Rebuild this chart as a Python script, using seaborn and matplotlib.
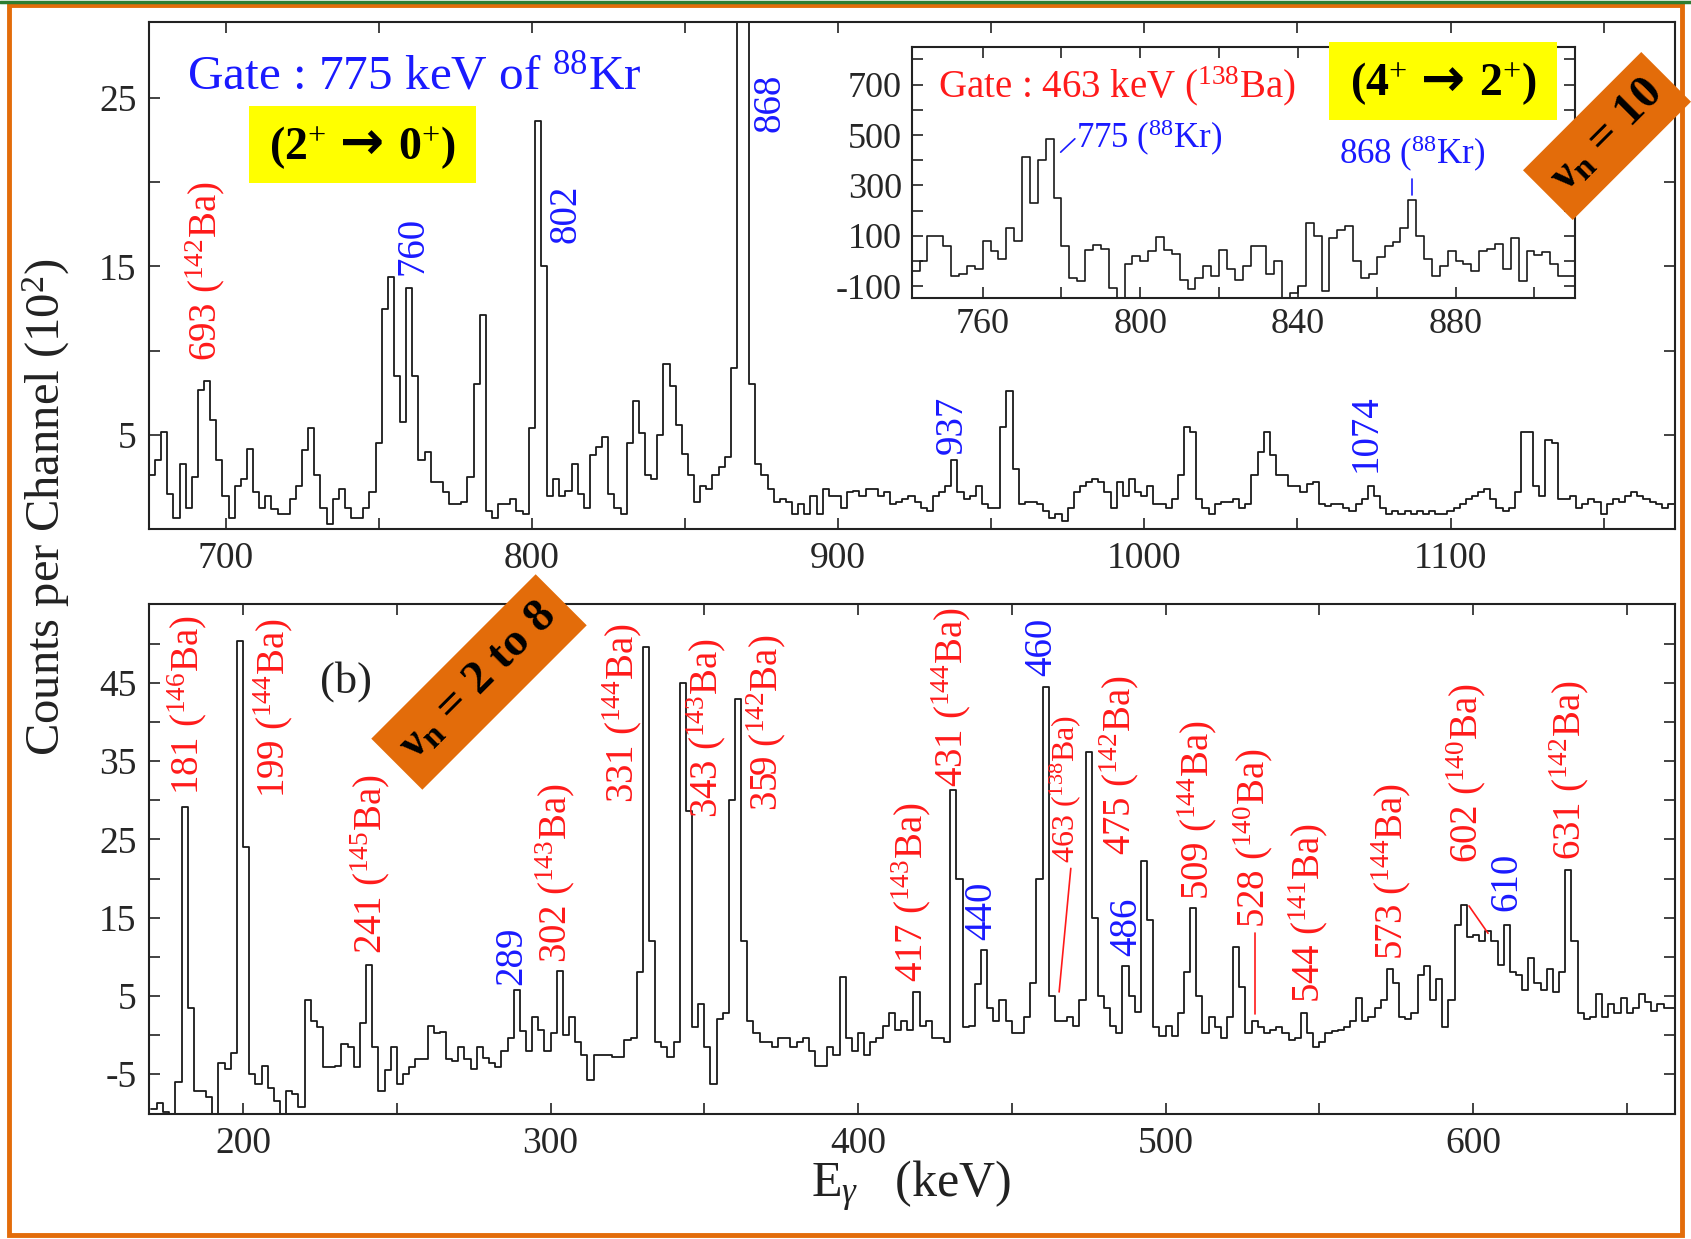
import numpy as np
import matplotlib
matplotlib.use("Agg")
import matplotlib.pyplot as plt
import seaborn as sns
from matplotlib.ticker import FixedLocator
from matplotlib.patches import Rectangle
from matplotlib.lines import Line2D
from matplotlib.offsetbox import TextArea, HPacker, AnnotationBbox

# ---------------- data ----------------
# (a) spectrum gated by 775 keV of 88Kr, 2 keV bins starting at 675 keV, counts in units of 10^2
top_start, top_width = 675, 2
top_counts = [
    2.6, 3.5, 5.2, 1.5, 0.1,
    3.3, 0.7, 2.5, 7.7, 8.2,
    5.9, 3.5, 1.4, 0.1, 2.0,
    2.4, 4.2, 1.6, 0.7, 1.4,
    0.6, 0.3, 0.3, 1.2, 2.0,
    4.1, 5.4, 2.6, 0.7, -0.3,
    1.2, 1.8, 0.7, 0.1, 0.1,
    0.7, 1.6, 4.5, 12.5, 14.4,
    8.5, 5.8, 13.7, 8.5, 3.5,
    4.0, 2.2, 2.2, 1.6, 0.9,
    0.9, 1.0, 2.5, 8.0, 12.1,
    0.5, 0.1, 0.9, 0.9, 1.2,
    0.5, 0.3, 5.4, 23.6, 15.0,
    1.4, 2.4, 1.4, 1.7, 3.3,
    1.5, 0.7, 3.8, 4.3, 4.9,
    1.5, 0.7, 0.3, 4.5, 7.0,
    5.1, 2.6, 2.4, 5.0, 9.2,
    7.9, 5.6, 3.9, 2.6, 1.0,
    2.0, 1.8, 2.6, 3.1, 3.7,
    9.0, 40.0, 40.0, 8.0, 3.3,
    2.6, 1.8, 1.0, 1.2, 1.0,
    0.3, 0.9, 0.3, 1.4, 0.3,
    1.8, 1.4, 1.4, 0.7, 1.6,
    1.7, 1.4, 1.8, 1.8, 1.4,
    1.6, 0.9, 1.0, 1.2, 1.4,
    1.0, 0.7, 0.5, 1.4, 1.6,
    2.0, 3.5, 1.6, 1.2, 1.4,
    2.0, 0.9, 0.7, 0.7, 5.5,
    7.6, 3.0, 0.9, 1.0, 1.0,
    0.9, 0.5, 0.1, 0.3, -0.1,
    0.7, 1.6, 2.0, 2.2, 2.4,
    2.2, 1.6, 0.7, 2.2, 1.4,
    2.4, 1.6, 1.4, 2.0, 0.9,
    0.9, 0.7, 1.2, 2.6, 5.5,
    5.2, 1.2, 0.7, 0.3, 0.9,
    1.0, 1.0, 1.2, 0.7, 0.9,
    2.6, 4.0, 5.2, 3.8, 2.6,
    2.6, 2.0, 2.0, 1.6, 2.1,
    2.2, 0.9, 0.8, 0.9, 0.9,
    0.7, 0.5, 0.9, 1.2, 2.0,
    1.4, 0.7, 0.3, 0.5, 0.3,
    0.5, 0.3, 0.5, 0.3, 0.5,
    0.3, 0.3, 0.5, 0.7, 0.9,
    1.2, 1.4, 1.6, 1.8, 1.2,
    0.7, 0.5, 0.7, 1.6, 5.2,
    5.2, 2.0, 1.4, 4.7, 4.5,
    1.2, 1.2, 1.4, 0.7, 0.9,
    1.2, 1.0, 0.3, 0.9, 1.2,
    1.0, 1.4, 1.6, 1.4, 1.2,
    1.0, 0.9, 0.7, 0.9, 0.9,
]

# (b) spectrum, 2 keV bins starting at 170 keV
bot_start, bot_width = 170, 2
bot_counts = [
    -9.5, -8.7, -9.8, -11.0, -6.0,
    29.2, 3.4, -7.1, -7.1, -7.9,
    -10.5, -3.6, -4.4, -2.3, 50.4,
    24.0, -5.0, -6.3, -3.9, -6.8,
    -8.4, -11.0, -7.1, -7.5, -9.2,
    4.5, 1.8, 1.0, -4.1, -4.1,
    -3.9, -1.2, -1.5, -4.1, 1.5,
    9.0, -1.5, -7.1, -4.5, -1.5,
    -6.3, -5.0, -4.1, -3.1, -3.1,
    1.2, 0.2, 0.4, -3.1, -3.3,
    -1.5, -3.1, -4.3, -1.5, -2.9,
    -3.6, -4.1, -2.0, -0.4, 5.8,
    0.5, -2.0, 2.3, 0.7, -2.0,
    0.2, 8.2, 0.0, 2.3, -0.9,
    -2.5, -5.8, -2.5, -2.5, -2.5,
    -2.8, -2.8, -0.6, -0.4, 8.0,
    49.6, 12.0, -0.9, -1.5, -2.8,
    -0.9, 45.0, 28.7, 1.0, 3.9,
    -1.5, -6.3, 2.0, 2.8, 30.0,
    42.9, 12.0, 1.8, 0.2, -0.9,
    -0.9, -1.5, -0.4, -0.4, -1.5,
    -0.9, -0.4, -2.0, -3.9, -3.9,
    -1.5, -2.5, 7.4, -0.4, -2.0,
    0.2, -2.5, -0.9, -0.4, 1.2,
    2.8, 0.7, 1.8, 0.7, 5.5,
    1.2, 1.8, -0.4, -0.4, -0.9,
    31.3, 20.0, 1.0, 1.2, 6.5,
    10.9, 3.4, 1.8, 4.5, 1.8,
    0.2, 0.2, 2.3, 6.6, 20.0,
    44.5, 5.0, 1.8, 1.8, 2.3,
    1.2, 4.5, 36.2, 15.0, 5.0,
    3.4, 1.2, 0.2, 8.8, 5.0,
    3.0, 22.2, 14.7, 1.0, -0.1,
    1.2, -0.1, 2.8, 8.0, 16.3,
    5.0, 0.2, 2.3, 1.0, -0.4,
    2.3, 11.2, 6.1, 0.2, 1.8,
    1.0, 0.2, 0.7, 1.0, 0.2,
    -0.6, -0.4, 2.8, 0.2, -1.5,
    -0.9, 0.2, 0.5, 0.7, 1.0,
    1.8, 4.7, 1.8, 2.3, 3.4,
    4.5, 8.5, 6.6, 2.3, 2.0,
    2.8, 7.7, 8.8, 4.5, 7.2,
    1.0, 4.5, 14.0, 16.6, 12.5,
    12.8, 12.0, 13.3, 12.0, 9.0,
    14.1, 8.0, 7.7, 5.8, 9.8,
    6.6, 5.8, 8.5, 5.5, 8.0,
    21.1, 12.0, 2.8, 2.0, 2.3,
    5.3, 2.3, 3.9, 2.8, 4.7,
    2.8, 3.4, 5.3, 4.2, 3.1,
    3.9, 3.4, 3.4,
]

# inset: gate on 463 keV (138Ba), 2 keV bins starting at 742 keV (counts)
ins_start, ins_width = 742, 2
ins_counts = [
    -40, 0, 100, 100, 60,
    -60, -50, -20, -30, 80,
    40, 10, 130, 80, 413,
    229, 400, 486, 250, 60,
    -67, -80, 45, 64, 50,
    -107, -160, -10, 20, -1,
    40, 97, 45, 30, -74,
    -110, -67, -20, -60, 45,
    -30, -74, -20, 60, 60,
    -50, 0, -160, -126, -100,
    150, 100, -120, 90, 124,
    140, 0, -67, -50, 15,
    60, 75, 130, 242, 100,
    10, -60, -20, 40, 0,
    -10, -40, 40, 50, 70,
    -30, 90, -80, 40, 25,
    35, -10, -60, -60,
]

# peak labels
top_lbl_text = ["693 ($^{142}$Ba)", "760", "802", "868", "937", "1074"]
top_lbl_color = ["red", "blue", "blue", "blue", "blue", "blue"]
top_lbl_x = [693.3, 761.2, 811.2, 877.8, 937.2, 1072.4]
top_lbl_y = [9.4, 14.5, 16.4, 23.0, 3.9, 2.8]

bot_lbl_text = ["181 ($^{146}$Ba)", "199 ($^{144}$Ba)", "241 ($^{145}$Ba)", "289",
                "302 ($^{143}$Ba)", "331 ($^{144}$Ba)", "343 ($^{143}$Ba)", "359 ($^{142}$Ba)",
                "417 ($^{143}$Ba)", "431 ($^{144}$Ba)", "440", "460", "463 ($^{138}$Ba)",
                "475 ($^{142}$Ba)", "486", "509 ($^{144}$Ba)", "528 ($^{140}$Ba)",
                "544 ($^{141}$Ba)", "573 ($^{144}$Ba)", "602 ($^{140}$Ba)", "610",
                "631 ($^{142}$Ba)"]
bot_lbl_color = ["red", "red", "red", "blue", "red", "red", "red", "red", "red", "red",
                 "blue", "blue", "red", "red", "blue", "red", "red", "red", "red", "red",
                 "blue", "red"]
bot_lbl_x = [181.7, 209.7, 241.3, 287.5, 301.6, 323.3, 350.7, 370.0, 417.3, 430.3,
             440.1, 459.7, 467.5, 485.0, 487.5, 510.2, 528.5, 546.3, 573.3, 597.9,
             610.9, 631.2]
bot_lbl_y = [30.7, 30.3, 10.3, 6.4, 9.2, 29.6, 27.8, 28.6, 6.8, 31.7,
             12.1, 45.9, 22.0, 23.0, 10.1, 17.2, 13.7, 4.1, 9.6, 22.0,
             15.8, 22.4]
bot_lbl_size = [28] * 12 + [23] + [28] * 9

# transition boxes: (initial spin, final spin)
transitions = [("2", "0"), ("4", "2")]

# ---------------- style ----------------
sns.set_style("ticks")
plt.rcParams.update({
    "font.family": ["Liberation Serif", "DejaVu Serif"],
    "mathtext.fontset": "custom",
    "mathtext.rm": "Liberation Serif",
    "mathtext.it": "Liberation Serif:italic",
    "mathtext.bf": "Liberation Serif:bold",
    "axes.unicode_minus": False,
    "axes.edgecolor": "#222222",
    "axes.linewidth": 1.5,
})
RED = "#ff1a1a"
BLUE = "#1a1aff"
cmap = {"red": RED, "blue": BLUE}
LINE = "#1a1a1a"

W, H = 1691, 1239
fig = plt.figure(figsize=(W / 100, H / 100), dpi=100)
fig.patch.set_facecolor("white")


def rect(x0, y0, x1, y1):
    return [x0 / W, 1 - y1 / H, (x1 - x0) / W, (y1 - y0) / H]


ax_top = fig.add_axes(rect(149, 22, 1675, 528.6))
ax_bot = fig.add_axes(rect(149, 604.4, 1675, 1114))
ax_in = fig.add_axes(rect(911.7, 46.7, 1575, 298))


def spectrum(ax, start, width, counts, lw=1.3):
    n = len(counts)
    edges = start + width * np.arange(n + 1)
    y = np.append(np.asarray(counts, float), counts[-1])
    sns.lineplot(x=edges, y=y, drawstyle="steps-post", color=LINE, lw=lw,
                 ax=ax, legend=False)
    ax.set_xlabel("")
    ax.set_ylabel("")


spectrum(ax_top, top_start, top_width, top_counts)
spectrum(ax_bot, bot_start, bot_width, bot_counts)
spectrum(ax_in, ins_start, ins_width, ins_counts, lw=1.2)

ax_top.set_xlim(675, 1173.3)
ax_top.set_ylim(-0.55, 29.5)
ax_bot.set_xlim(169.4, 665.7)
ax_bot.set_ylim(-10.1, 55.05)
ax_in.set_xlim(742, 910.3)
ax_in.set_ylim(-146, 850)

ax_top.xaxis.set_major_locator(FixedLocator([700, 800, 900, 1000, 1100]))
ax_top.xaxis.set_minor_locator(FixedLocator([750, 850, 950, 1050, 1150]))
ax_top.yaxis.set_major_locator(FixedLocator([5, 15, 25]))
ax_top.yaxis.set_minor_locator(FixedLocator([10, 20]))

ax_bot.xaxis.set_major_locator(FixedLocator([200, 300, 400, 500, 600]))
ax_bot.xaxis.set_minor_locator(FixedLocator([250, 350, 450, 550, 650]))
ax_bot.yaxis.set_major_locator(FixedLocator([-5, 5, 15, 25, 35, 45]))
ax_bot.yaxis.set_minor_locator(FixedLocator([0, 10, 20, 30, 40, 50]))

ax_in.xaxis.set_major_locator(FixedLocator([760, 800, 840, 880]))
ax_in.xaxis.set_minor_locator(FixedLocator([780, 820, 860, 900]))
ax_in.yaxis.set_major_locator(FixedLocator([-100, 100, 300, 500, 700]))
ax_in.yaxis.set_minor_locator(FixedLocator([0, 200, 400, 600, 800]))

for ax in (ax_top, ax_bot, ax_in):
    ax.tick_params(which="both", direction="in", top=True, right=True,
                   length=8, width=1.2, color="#222222")
    ax.tick_params(which="major", labelsize=27, pad=9)
    ax.set_facecolor("white")
    for s in ax.spines.values():
        s.set_visible(True)
        s.set_linewidth(1.5)
        s.set_color("#222222")
ax_in.tick_params(which="major", labelsize=26, pad=7)

# labels top panel
for t, c, x, y in zip(top_lbl_text, top_lbl_color, top_lbl_x, top_lbl_y):
    ax_top.text(x, y, t, rotation=90, ha="center", va="bottom", color=cmap[c],
                fontsize=28)
ax_top.text(0.025, 0.893, r"Gate : 775 keV of $^{88}$Kr", transform=ax_top.transAxes,
            ha="left", va="center", color=BLUE, fontsize=35.5)

# labels bottom panel
for t, c, x, y, s in zip(bot_lbl_text, bot_lbl_color, bot_lbl_x, bot_lbl_y, bot_lbl_size):
    ax_bot.text(x, y, t, rotation=90, ha="center", va="bottom", color=cmap[c],
                fontsize=s)
ax_bot.text(233.5, 45.2, "(b)", ha="center", va="center", fontsize=32, color="#222222")
ax_bot.plot([469.2, 465.4], [21.3, 5.5], color=RED, lw=1.2)
ax_bot.plot([529.1, 529.1], [13.0, 2.7], color=RED, lw=1.2)
ax_bot.plot([598.7, 604.9], [16.5, 13.0], color=RED, lw=1.2)

# inset labels
ax_in.text(0.04, 0.844, r"Gate : 463 keV ($^{138}$Ba)", transform=ax_in.transAxes,
           ha="left", va="center", color=RED, fontsize=28)
ax_in.text(783.8, 490, r"775 ($^{88}$Kr)", ha="left", va="center", color=BLUE, fontsize=25)
ax_in.plot([779.8, 783.4], [432, 485], color=BLUE, lw=1.2)
ax_in.text(869, 425, r"868 ($^{88}$Kr)", ha="center", va="center", color=BLUE, fontsize=25)
ax_in.plot([869, 869], [262, 326], color=BLUE, lw=1.2)

# axis titles
fig.text(46 / W, 1 - 507 / H, r"Counts per Channel (10$^2$)", rotation=90,
         ha="center", va="center", fontsize=35, color="#222222")
fig.text(911 / W, 1 - 1186 / H, r"E$_\gamma$   (keV)", ha="center", va="center",
         fontsize=36, color="#222222")

# yellow boxes
boxes = [(249, 106, 476, 183), (1329, 42, 1557, 120)]
for (x0, y0, x1, y1), (ji, jf) in zip(boxes, transitions):
    fig.patches.append(Rectangle((x0 / W, 1 - y1 / H), (x1 - x0) / W, (y1 - y0) / H,
                                 transform=fig.transFigure, facecolor="#ffff00",
                                 edgecolor="none", zorder=5))
    tp = dict(fontsize=33, fontweight="bold", color="black")
    parts = [TextArea("(" + ji + "$^{+}$", textprops=tp),
             TextArea("\u2192", textprops=dict(fontsize=38, fontweight="bold",
                                               color="black", family="DejaVu Sans")),
             TextArea(jf + "$^{+}$)", textprops=tp)]
    pack = HPacker(children=parts, align="baseline", pad=0, sep=10)
    ab = AnnotationBbox(pack, ((x0 + x1) / 2 / W, 1 - (y0 + y1) / 2 / H),
                        xycoords="figure fraction", frameon=False,
                        box_alignment=(0.5, 0.5), pad=0)
    ab.set_zorder(6)
    fig.add_artist(ab)

# orange rotated boxes
ORANGE = "#e36c0a"
fig.text(1607 / W, 1 - 136 / H, r"$\mathbf{\nu_n}$ = 10", rotation=45, ha="center",
         va="center", fontsize=34, fontweight="bold", color="black", zorder=7,
         rotation_mode="anchor",
         bbox=dict(boxstyle="square,pad=0.3", facecolor=ORANGE, edgecolor="none"))
fig.text(479 / W, 1 - 682 / H, r"$\mathbf{\nu_n}$ = 2 to 8", rotation=45, ha="center",
         va="center", fontsize=34, fontweight="bold", color="black", zorder=7,
         rotation_mode="anchor",
         bbox=dict(boxstyle="square,pad=0.32", facecolor=ORANGE, edgecolor="none"))

# figure frame
fig.patches.append(Rectangle((9 / W, 4 / H), (W - 18) / W, (H - 9) / H,
                             transform=fig.transFigure, facecolor="none",
                             edgecolor=ORANGE, lw=3.5, zorder=10))
fig.add_artist(Line2D([0, 1], [1 - 1.5 / H, 1 - 1.5 / H], transform=fig.transFigure,
                      color="#2e7d32", lw=2.5, zorder=11))

fig.savefig("out.png", dpi=100)
